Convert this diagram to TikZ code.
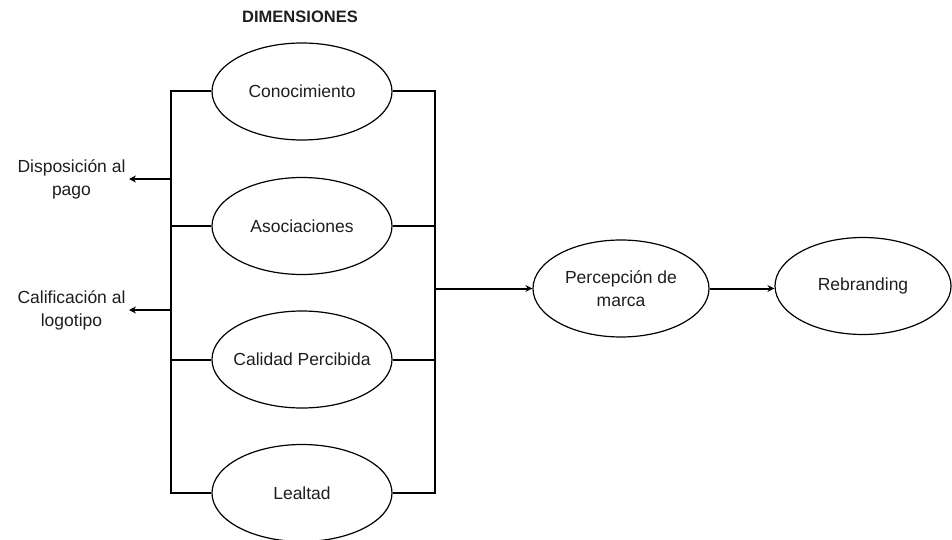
\documentclass[tikz,border=0pt]{standalone}
\usepackage{fontspec}
\setmainfont{Liberation Sans}
\usetikzlibrary{shapes.geometric,arrows.meta}
\definecolor{txt}{HTML}{1E1E1E}
\begin{document}
\begin{tikzpicture}[x=1pt,y=-1pt,
  dim/.style={draw,ellipse,line width=1.2pt,minimum width=180pt,minimum height=97pt,inner sep=0pt},
  lab/.style={font=\fontsize{17.5}{23}\selectfont,text=txt,align=center},
  bus/.style={line width=2pt},
  arr/.style={line width=2pt,-{Stealth[length=7pt,width=7pt]}}]
\useasboundingbox (0,0) rectangle (952,540);
\node[font=\bfseries\fontsize{16.5}{18}\selectfont,text=txt] (title) at (300,17) {DIMENSIONES};
\node[dim,label={[lab]center:Conocimiento}] (c1) at (302,91.5) {};
\node[dim,label={[lab]center:Asociaciones}] (c2) at (302,226) {};
\node[dim,label={[lab]center:Calidad Percibida}] (c3) at (302,359.5) {};
\node[dim,label={[lab]center:Lealtad}] (c4) at (302,493) {};
\node[dim,minimum width=176pt,label={[lab]center:Percepción de\\marca}] (pm) at (621,288.5) {};
\node[dim,minimum width=176pt,label={[lab]center:Rebranding}] (rb) at (863,286) {};
\node[lab,anchor=east] (dp) at (129,179.5) {Disposición al\\pago};
\node[lab,anchor=east] (ca) at (129,310) {Calificación al\\logotipo};
\coordinate (lt) at (171,91.5);
\coordinate (lb) at (171,493);
\coordinate (rt) at (435,91.5);
\coordinate (rbm) at (435,493);
\coordinate (ro) at (435,288.5);
\draw[bus] (c1.west) -- (lt) -- (lb) -- (c4.west);
\draw[bus] (c1.east) -- (rt) -- (rbm) -- (c4.east);
\draw[bus] (c2.west) -- (c2.west -| lt);
\draw[bus] (c3.west) -- (c3.west -| lt);
\draw[bus] (c2.east) -- (c2.east -| rt);
\draw[bus] (c3.east) -- (c3.east -| rt);
\draw[arr] (171,179) -- (dp.east |- 0,179);
\draw[arr] (171,310) -- (ca.east |- 0,310);
\draw[arr] (ro) -- (pm.west);
\draw[arr] (pm.east) -- (rb.west |- pm.east);
\end{tikzpicture}
\end{document}
